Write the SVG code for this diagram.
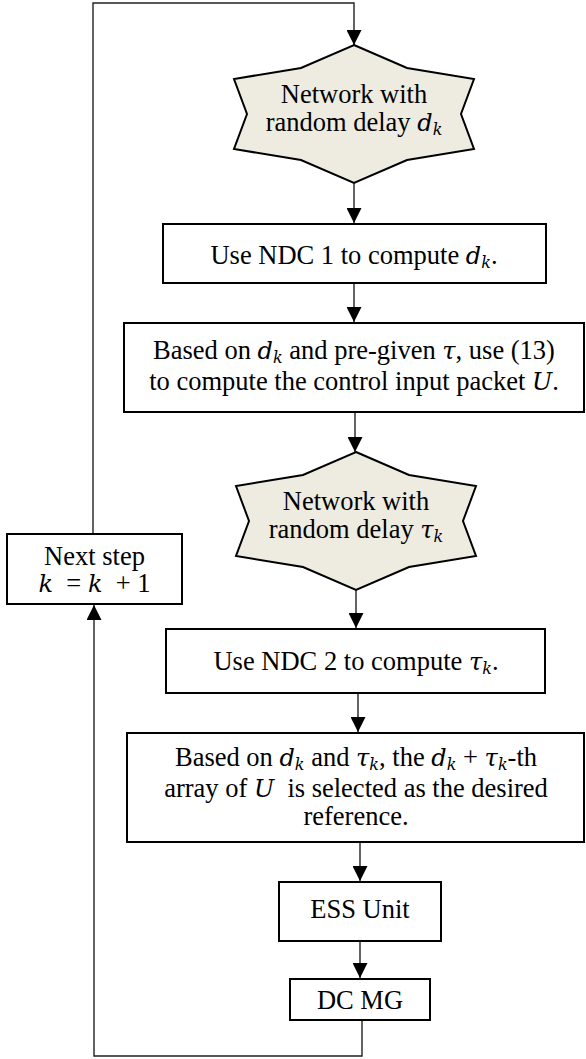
<svg xmlns="http://www.w3.org/2000/svg" width="586" height="1059" viewBox="0 0 586 1059">
<style>
.box{fill:#fff;stroke:#000;stroke-width:2}
.star{fill:#EEECE1;stroke:#000;stroke-width:2}
.t{font-family:"Liberation Serif","Times New Roman",serif;font-size:26.5px;fill:#000;text-anchor:middle}
.m{font-family:"DejaVu Serif",serif;font-style:italic;font-size:24px}
.s{font-family:"DejaVu Serif",serif;font-style:italic;font-size:16px}
.c{fill:none;stroke:#222;stroke-width:1.4}
</style>
<defs>
<marker id="ah" markerWidth="15" markerHeight="15" refX="15" refY="7.5" orient="auto" markerUnits="userSpaceOnUse">
<path d="M0,0 L15,7.5 L0,15 z" fill="#000"/>
</marker>
<polygon id="starShape" points="0,-69 53,-46 120,-35 107,0 120,35 53,46 0,69 -53,46 -120,35 -107,0 -120,-35 -53,-46"/>
</defs>

<g id="connectors">
<polyline class="c" points="93,533 93,3 354,3 354,45" marker-end="url(#ah)"/>
<line class="c" x1="354" y1="183" x2="354" y2="223" marker-end="url(#ah)"/>
<line class="c" x1="354" y1="283" x2="354" y2="322" marker-end="url(#ah)"/>
<line class="c" x1="355" y1="412" x2="355" y2="452" marker-end="url(#ah)"/>
<line class="c" x1="356" y1="590" x2="356" y2="628" marker-end="url(#ah)"/>
<line class="c" x1="358" y1="693" x2="358" y2="732" marker-end="url(#ah)"/>
<line class="c" x1="360" y1="842" x2="360" y2="881" marker-end="url(#ah)"/>
<line class="c" x1="360" y1="941" x2="360" y2="978" marker-end="url(#ah)"/>
<polyline class="c" points="362,1020 362,1056 94,1056 94,605" marker-end="url(#ah)"/>
</g>

<g id="star1">
<use href="#starShape" class="star" x="354" y="114"/>
<text class="t" x="354" y="103">Network with</text>
<text class="t" x="354" y="131">random delay <tspan class="m">d</tspan><tspan class="s" dy="4">k</tspan></text>
</g>

<g id="ndc1">
<rect class="box" x="163" y="224" width="383" height="59"/>
<text class="t" x="354" y="264">Use NDC 1 to compute <tspan class="m">d</tspan><tspan class="s" dy="4">k</tspan><tspan dy="-4">.</tspan></text>
</g>

<g id="compute-u">
<rect class="box" x="124" y="323" width="460" height="89"/>
<text class="t" x="354" y="359">Based on <tspan class="m">d</tspan><tspan class="s" dy="4">k</tspan><tspan dy="-4"> and pre-given </tspan><tspan class="m">τ</tspan>, use (13)</text>
<text class="t" x="354" y="390">to compute the control input packet <tspan class="m">U</tspan>.</text>
</g>

<g id="star2">
<use href="#starShape" class="star" x="356" y="521"/>
<text class="t" x="356" y="510">Network with</text>
<text class="t" x="356" y="538">random delay <tspan class="m">τ</tspan><tspan class="s" dy="4">k</tspan></text>
</g>

<g id="next-step">
<rect class="box" x="7" y="534" width="175" height="70"/>
<text class="t" x="94.5" y="565">Next step</text>
<text class="t" x="94.5" y="592"><tspan class="m">k</tspan>&#160; = <tspan class="m">k</tspan>&#160; + 1</text>
</g>

<g id="ndc2">
<rect class="box" x="166" y="629" width="379" height="64"/>
<text class="t" x="356" y="670">Use NDC 2 to compute <tspan class="m">τ</tspan><tspan class="s" dy="4">k</tspan><tspan dy="-4">.</tspan></text>
</g>

<g id="select">
<rect class="box" x="127" y="733" width="457" height="109"/>
<text class="t" x="356" y="766">Based on <tspan class="m">d</tspan><tspan class="s" dy="4">k</tspan><tspan dy="-4"> and </tspan><tspan class="m">τ</tspan><tspan class="s" dy="4">k</tspan><tspan dy="-4">, the </tspan><tspan class="m">d</tspan><tspan class="s" dy="4">k</tspan><tspan dy="-4"> + </tspan><tspan class="m">τ</tspan><tspan class="s" dy="4">k</tspan><tspan dy="-4">-th</tspan></text>
<text class="t" x="356" y="797">array of <tspan class="m">U</tspan>&#160; is selected as the desired</text>
<text class="t" x="356" y="825">reference.</text>
</g>

<g id="ess">
<rect class="box" x="279" y="882" width="162" height="59"/>
<text class="t" x="360" y="918">ESS Unit</text>
</g>

<g id="dcmg">
<rect class="box" x="290" y="979" width="140" height="41"/>
<text class="t" x="360" y="1009">DC MG</text>
</g>
</svg>
